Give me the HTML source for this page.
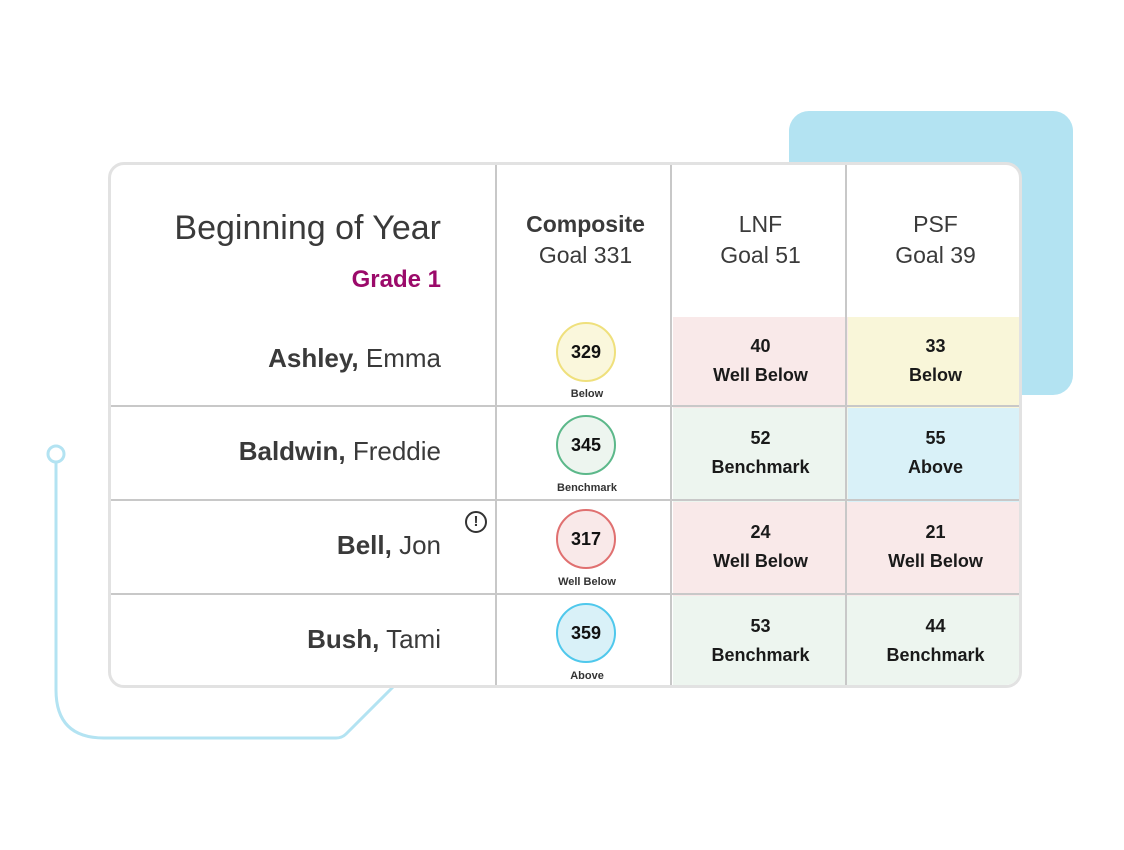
<!DOCTYPE html>
<html><head><style>
body{margin:0;width:1124px;height:850px;background:#fff;position:relative;font-family:"Liberation Sans",sans-serif;overflow:hidden}
.a{position:absolute}
.card{left:108px;top:162px;width:908px;height:520px;border:3px solid #e2e2e2;border-radius:16px;background:#fff;overflow:hidden}
.vl{position:absolute;top:0;bottom:0;width:2px;background:#c8c8c8}
.hl{position:absolute;left:0;right:0;height:2px;background:#c8c8c8}
.cell{position:absolute;text-align:center;font-size:18px;font-weight:bold;color:#1a1a1a;line-height:29px}
.nm{position:absolute;right:578px;font-size:26px;color:#3a3a3a;white-space:nowrap}
.nm b{font-weight:bold}
.circ{position:absolute;left:445px;width:60px;height:60px;border-radius:50%;border:2px solid;box-sizing:border-box;text-align:center;line-height:56px;font-weight:bold;font-size:18px;color:#111}
.lab{position:absolute;left:414px;width:124px;text-align:center;font-size:11px;font-weight:bold;color:#333}
.hd{position:absolute;top:44px;width:175px;text-align:center;font-size:23px;color:#3a3a3a;line-height:31px}
</style></head><body>
<div class="a" style="left:789px;top:111px;width:284px;height:284px;border-radius:20px;background:#b3e3f2"></div>
<svg class="a" style="left:0;top:0" width="1124" height="850">
<circle cx="56" cy="454" r="8" fill="#fff" stroke="#b3e3f2" stroke-width="3"/>
<path d="M56 462 V690 Q56 738 104 738 H336 Q342 738 346 734 L394 686" fill="none" stroke="#b3e3f2" stroke-width="3"/>
</svg>
<div class="a card">
<div class="a" style="left:562px;top:152px;width:175px;height:91px;background:#f9e9e9"></div>
<div class="a" style="left:737px;top:152px;width:175px;height:91px;background:#f9f6d9"></div>
<div class="a" style="left:562px;top:243px;width:175px;height:94px;background:#edf5ef"></div>
<div class="a" style="left:737px;top:243px;width:175px;height:94px;background:#d9f1f8"></div>
<div class="a" style="left:562px;top:337px;width:175px;height:94px;background:#f9e9e9"></div>
<div class="a" style="left:737px;top:337px;width:175px;height:94px;background:#f9e9e9"></div>
<div class="a" style="left:562px;top:431px;width:175px;height:94px;background:#edf5ef"></div>
<div class="a" style="left:737px;top:431px;width:175px;height:94px;background:#edf5ef"></div>
<div class="vl" style="left:384px"></div><div class="vl" style="left:559px"></div><div class="vl" style="left:734px"></div>
<div class="hl" style="top:240px"></div><div class="hl" style="top:334px"></div><div class="hl" style="top:428px"></div>
<div class="a" style="right:578px;top:44px;font-size:34px;color:#3a3a3a;white-space:nowrap">Beginning of Year</div>
<div class="a" style="right:578px;top:101px;font-size:24px;color:#9b0a6a;font-weight:bold">Grade 1</div>
<div class="hd" style="left:387px"><b>Composite</b><br>Goal 331</div>
<div class="hd" style="left:562px">LNF<br>Goal 51</div>
<div class="hd" style="left:737px">PSF<br>Goal 39</div>
<div class="nm" style="top:178px"><b>Ashley,</b> Emma</div>
<div class="nm" style="top:271px"><b>Baldwin,</b> Freddie</div>
<div class="nm" style="top:365px"><b>Bell,</b> Jon</div>
<div class="nm" style="top:459px"><b>Bush,</b> Tami</div>
<div class="a" style="left:354px;top:346px;width:18px;height:18px;border:2px solid #333;border-radius:50%;text-align:center;font-weight:bold;font-size:15px;line-height:18px;color:#333">!</div>
<div class="circ" style="top:157px;border-color:#efe07c;background:#faf7dc">329</div><div class="lab" style="top:223px">Below</div>
<div class="circ" style="top:250px;border-color:#5cb88a;background:#edf5ef">345</div><div class="lab" style="top:317px">Benchmark</div>
<div class="circ" style="top:344px;border-color:#e07070;background:#f9e9e9">317</div><div class="lab" style="top:411px">Well Below</div>
<div class="circ" style="top:438px;border-color:#4fc8ec;background:#d9f1f8">359</div><div class="lab" style="top:505px">Above</div>
<div class="cell" style="left:562px;width:175px;top:167px">40<br>Well Below</div>
<div class="cell" style="left:737px;width:175px;top:167px">33<br>Below</div>
<div class="cell" style="left:562px;width:175px;top:259px">52<br>Benchmark</div>
<div class="cell" style="left:737px;width:175px;top:259px">55<br>Above</div>
<div class="cell" style="left:562px;width:175px;top:353px">24<br>Well Below</div>
<div class="cell" style="left:737px;width:175px;top:353px">21<br>Well Below</div>
<div class="cell" style="left:562px;width:175px;top:447px">53<br>Benchmark</div>
<div class="cell" style="left:737px;width:175px;top:447px">44<br>Benchmark</div>
</div>
</body></html>
